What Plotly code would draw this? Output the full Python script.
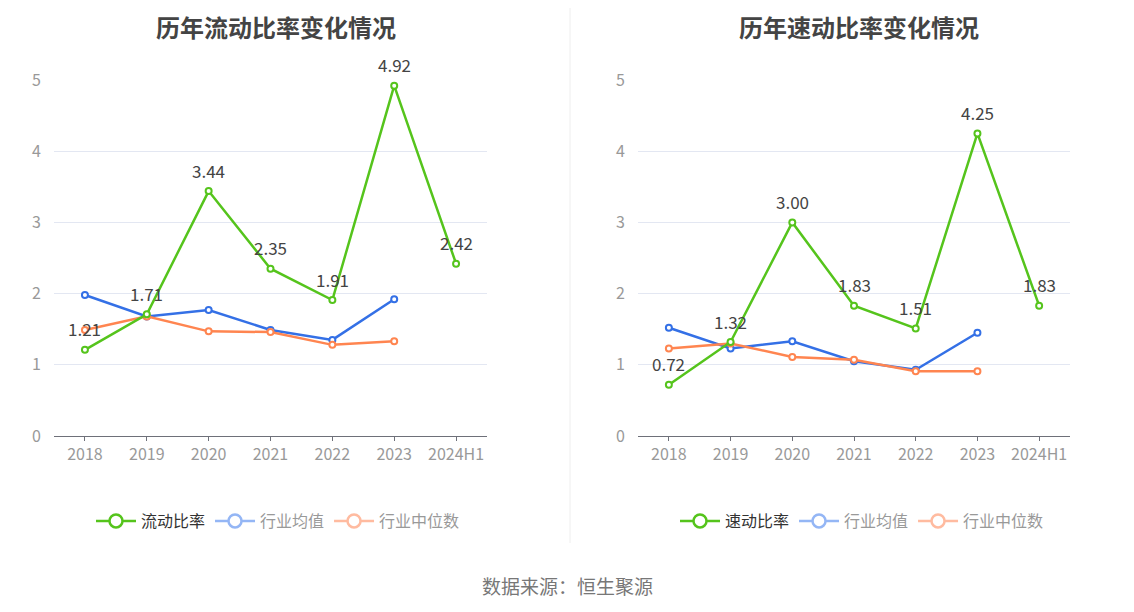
import plotly.graph_objects as go

years = ['2018', '2019', '2020', '2021', '2022', '2023', '2024H1']

# 流动比率
current_ratio = [1.21, 1.71, 3.44, 2.35, 1.91, 4.92, 2.42]
current_avg = [1.98, 1.68, 1.77, 1.49, 1.35, 1.92, None]
current_median = [1.49, 1.68, 1.47, 1.46, 1.28, 1.33, None]

# 速动比率
quick_ratio = [0.72, 1.32, 3.00, 1.83, 1.51, 4.25, 1.83]
quick_avg = [1.52, 1.23, 1.33, 1.05, 0.93, 1.45, None]
quick_median = [1.23, 1.30, 1.11, 1.07, 0.91, 0.91, None]

GREEN = '#55c41c'
BLUE = '#3470e6'
ORANGE = '#ff8550'
BLUE_L = '#94b6f5'
ORANGE_L = '#ffbba0'

W, H = 1134, 612
OFF = 8  # page body margin


def px_x(x):
    return (x - OFF) / W


def px_y(y):
    return 1 - (y - OFF) / H


fig = go.Figure()
labels = []


def add_panel(main, avg, med, main_name, xa, ya, leg):
    for vals, col in [(avg, BLUE), (med, ORANGE), (main, GREEN)]:
        fig.add_trace(go.Scatter(
            x=years, y=vals, xaxis=xa, yaxis=ya, mode='lines+markers',
            line=dict(color=col, width=2.5),
            marker=dict(symbol='circle', size=6, color='white', line=dict(color=col, width=2)),
            cliponaxis=False, showlegend=False, hoverinfo='x+y'))
    # value labels (category index as x)
    for i, v in enumerate(main):
        labels.append(dict(x=i, y=v, xref=xa, yref=ya, text='%.2f' % v, showarrow=False,
                           yshift=21, font=dict(size=17, color='#444')))
    # legend entries
    for name, col, tcol in [(main_name, GREEN, '#333'), ('行业均值', BLUE_L, '#999'),
                            ('行业中位数', ORANGE_L, '#999')]:
        fig.add_trace(go.Scatter(
            x=[None], y=[None], xaxis=xa, yaxis=ya, mode='lines+markers',
            name='<span style="color:%s">%s</span>' % (tcol, name),
            line=dict(color=col, width=2.5),
            marker=dict(symbol='circle', size=13, color='white', line=dict(color=col, width=2.5)),
            legend=leg, showlegend=True))


add_panel(current_ratio, current_avg, current_median, '流动比率', 'x', 'y', 'legend')
add_panel(quick_ratio, quick_avg, quick_median, '速动比率', 'x2', 'y2', 'legend2')

ydom = [px_y(436), px_y(80)]
axis_common = dict(type='category', range=[-0.5, 6.5], showgrid=False,
                   showline=True, linecolor='#6e7079', linewidth=1,
                   ticks='outside', ticklen=4, tickcolor='#6e7079',
                   tickfont=dict(size=16, color='#999'), fixedrange=True)
yaxis_common = dict(range=[0, 5], dtick=1, showgrid=True, gridcolor='#e3e7f2',
                    zeroline=False, showline=False, ticks='',
                    tickfont=dict(size=16, color='#999'), ticklabelstandoff=12,
                    fixedrange=True)

legend_common = dict(orientation='h', xanchor='center', yanchor='middle',
                     y=px_y(521), font=dict(size=16, color='#333'),
                     bgcolor='rgba(0,0,0,0)', itemwidth=40)

fig.update_layout(
    width=W, height=H,
    margin=dict(l=0, r=0, t=0, b=0, autoexpand=False),
    paper_bgcolor='white', plot_bgcolor='white',
    font=dict(family='Noto Sans CJK SC, sans-serif'),
    xaxis=dict(domain=[px_x(54), px_x(487)], anchor='y', **axis_common),
    yaxis=dict(domain=ydom, anchor='x', **yaxis_common),
    xaxis2=dict(domain=[px_x(638), px_x(1070)], anchor='y2', **axis_common),
    yaxis2=dict(domain=ydom, anchor='x2', **yaxis_common),
    legend=dict(x=px_x(278), **legend_common),
    legend2=dict(x=px_x(862), **legend_common),
    shapes=[dict(type='line', xref='paper', yref='paper', x0=px_x(570), x1=px_x(570),
                 y0=px_y(543), y1=1, line=dict(color='#eeeeee', width=1))],
    annotations=labels + [
        dict(text='<b>历年流动比率变化情况</b>', x=px_x(276), y=1, xref='paper', yref='paper',
             showarrow=False, font=dict(size=24, color='#444'), xanchor='center', yanchor='top',
             borderpad=0),
        dict(text='<b>历年速动比率变化情况</b>', x=px_x(859), y=1, xref='paper', yref='paper',
             showarrow=False, font=dict(size=24, color='#444'), xanchor='center', yanchor='top',
             borderpad=0),
        dict(text='数据来源：恒生聚源', x=px_x(567), y=px_y(585), xref='paper', yref='paper',
             showarrow=False, font=dict(size=19, color='#777'), xanchor='center', yanchor='middle'),
    ],
)

fig.write_html('out.html')
